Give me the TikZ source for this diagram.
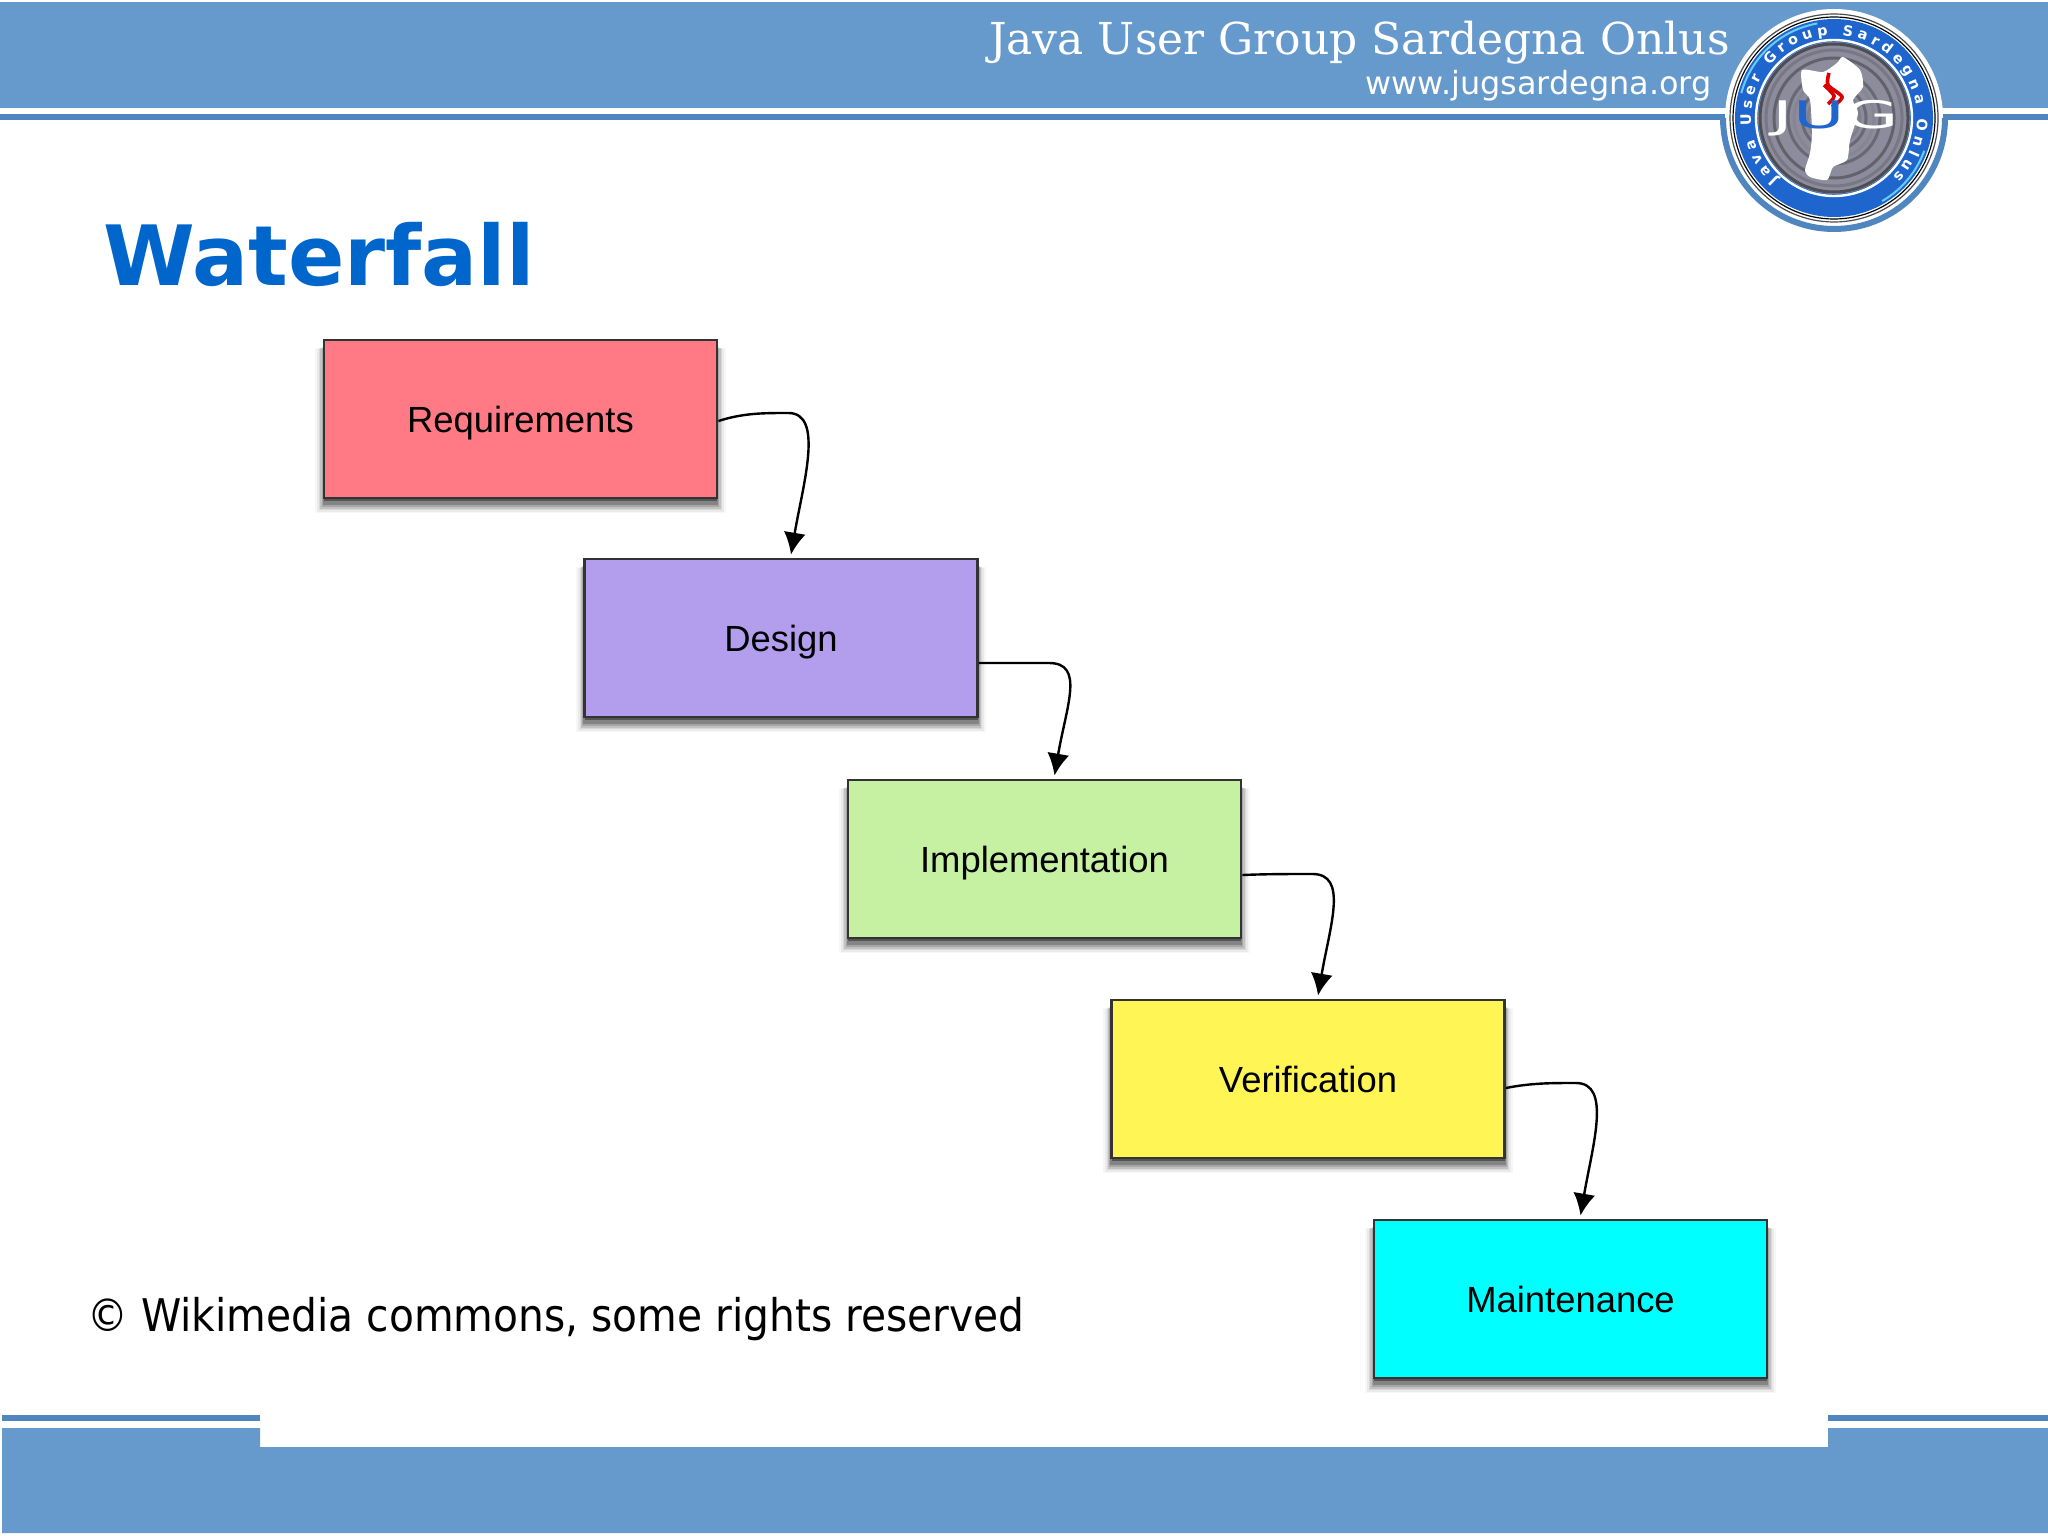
\documentclass[tikz,border=0pt]{standalone}
\usepackage{fontspec}
\setmainfont{DejaVu Sans}
\newfontfamily\labelfont{Liberation Sans}
\newfontfamily\headfont{DejaVu Serif}
\newfontfamily\creditfont[FakeStretch=0.906]{DejaVu Sans}
\newfontfamily\jugfont[LetterSpace=6]{DejaVu Sans}
\usetikzlibrary{arrows.meta,shadows,decorations.text}
\definecolor{bandblue}{HTML}{6699CC}
\definecolor{stripeblue}{HTML}{4F86C0}
\definecolor{titleblue}{HTML}{0066CC}
\definecolor{ringblue}{HTML}{1E66CE}
\definecolor{discgray}{HTML}{8C8C9C}
\definecolor{aquafill}{HTML}{00FFFF}
\begin{document}
\begin{tikzpicture}[x=0.5pt,y=-0.5pt,
    phasebox/.style={rectangle,draw=black!80,line width=1.4pt,minimum width=196.5pt,minimum height=79pt,
      text=black,text height=13pt,text depth=0pt,font=\labelfont\fontsize{18.2}{20}\selectfont,
      drop shadow={shadow xshift=0pt,shadow yshift=-5.5pt,shadow scale=1.045,opacity=.03,fill=black},
      drop shadow={shadow xshift=0pt,shadow yshift=-5.5pt,shadow scale=1.035,opacity=.05,fill=black},
      drop shadow={shadow xshift=0pt,shadow yshift=-5pt,shadow scale=1.025,opacity=.07,fill=black},
      drop shadow={shadow xshift=0pt,shadow yshift=-4.5pt,shadow scale=1.018,opacity=.1,fill=black},
      drop shadow={shadow xshift=0pt,shadow yshift=-4pt,shadow scale=1.012,opacity=.14,fill=black},
      drop shadow={shadow xshift=0pt,shadow yshift=-3pt,shadow scale=1.006,opacity=.2,fill=black},
      drop shadow={shadow xshift=0pt,shadow yshift=-1.5pt,shadow scale=1,opacity=.35,fill=black}},
    flowline/.style={line width=1.2pt,black,-{Latex[length=11pt,width=11pt]}},
    band/.style={fill=bandblue,draw=none},
    stripe/.style={fill=stripeblue,draw=none}]
  \useasboundingbox (0,0) rectangle (2048,1535);
  \fill[white] (0,0) rectangle (2048,1535);
  % header and footer bands
  \path[band] (0,2) rectangle (2048,108);
  \path[stripe] (0,114) rectangle (2048,120);
  \path[stripe] (2,1415) rectangle (260,1421);
  \path[stripe] (1828,1415) rectangle (2048,1421);
  \path[band] (2,1428) -- (260,1428) -- (260,1447) -- (1828,1447) -- (1828,1428) -- (2048,1428) -- (2048,1533) -- (2,1533) -- cycle;
  % logo
  \coordinate (logo) at (1834,118);
  \fill[white] (logo) circle [radius=109];
  \draw[stripeblue,line width=3pt] ([shift={(180:55.5pt)}]logo) arc[start angle=180,end angle=360,radius=55.5pt];
  \draw[black!70,line width=.6pt] (logo) circle [radius=104];
  \draw[black,line width=.6pt] (logo) circle [radius=101];
  \fill[ringblue] (logo) circle [radius=99];
  \draw[cyan!60,line width=1pt] ([shift={(100:48pt)}]logo) arc[start angle=100,end angle=165,radius=48pt];
  \draw[cyan!60,line width=1pt] ([shift={(-60:48pt)}]logo) arc[start angle=-60,end angle=-20,radius=48pt];
  \draw[white,line width=1.2pt] (logo) circle [radius=78];
  \fill[discgray] (logo) circle [radius=76];
  \foreach \r/\g in {74/55,68/85,60/70,54/100,46/75,40/95,32/75,26/90} {
    \draw[discgray!\g!black,line width=1.5pt] (logo) circle [radius=\r];
  }
  \path[decorate,decoration={text along path,text={|\fontsize{7.2}{8}\selectfont\bfseries\color{white}|Java User Group Sardegna Onlus},text align={fit to path}}]
    ([shift={(228:41.5pt)}]logo) arc[start angle=228,end angle=-45,radius=41.5pt];
  \fill[white] plot[smooth cycle,tension=.4] coordinates {(1843,57) (1860,70) (1863,87) (1853,100) (1858,113) (1850,140) (1847,160) (1833,167) (1827,180) (1810,177) (1805,170) (1810,153) (1812,133) (1810,100) (1803,90) (1802,70) (1823,72) (1837,63)};
  \draw[red!85!black,line width=1.8pt] plot[smooth] coordinates {(1829,73) (1828,85) (1842,97) (1832,107)};
  \draw[red!85!black,line width=1.8pt] plot[smooth] coordinates {(1824,85) (1834,96) (1828,104)};
  \node[anchor=center,xscale=1.85,transform shape,inner sep=0pt,font=\jugfont\fontsize{19}{20}\selectfont,white] (jug) at (1836,118) {J\textcolor{ringblue}{U}G};
  % header text
  \node[anchor=base east,inner sep=0pt,white,font=\headfont\fontsize{22}{26}\selectfont] (group) at (1730,55) {Java User Group Sardegna Onlus};
  \node[anchor=base east,inner sep=0pt,white,font=\fontsize{15.95}{20}\selectfont] (site) at (1712,95) {www.jugsardegna.org};
  % title and credit
  \node[anchor=base west,inner sep=0pt,titleblue,font=\fontsize{41.6}{44}\selectfont\bfseries] (title) at (103,286) {Waterfall};
  \node[anchor=base west,inner sep=0pt,black,font=\creditfont\fontsize{22.5}{26}\selectfont] (credit) at (87,1331) {© Wikimedia commons, some rights reserved};
  % phases
  \node[phasebox,fill={rgb,255:red,255;green,122;blue,133}] (req) at (520.5,419) {Requirements};
  \node[phasebox,fill={rgb,255:red,179;green,158;blue,238}] (des) at (781,638) {Design};
  \node[phasebox,fill={rgb,255:red,198;green,240;blue,162}] (imp) at (1044.5,859) {Implementation};
  \node[phasebox,fill={rgb,255:red,255;green,245;blue,85}] (ver) at (1308,1079) {Verification};
  \node[phasebox,fill=aquafill] (mai) at (1570.5,1299) {Maintenance};
  \foreach \a/\b/\s/\rise in {req/des/1pt/-8,des/imp/12.5pt/0,imp/ver/8pt/-1,ver/mai/4.5pt/-5} {
    \draw[flowline] ([yshift=-\s]\a.east) .. controls +(25,\rise) and +(-25,0) .. ++(70,\rise) .. controls +(36,0) and +(12,-70) .. ([xshift=5pt,yshift=1.5pt]\b.north);
  }
\end{tikzpicture}
\end{document}
